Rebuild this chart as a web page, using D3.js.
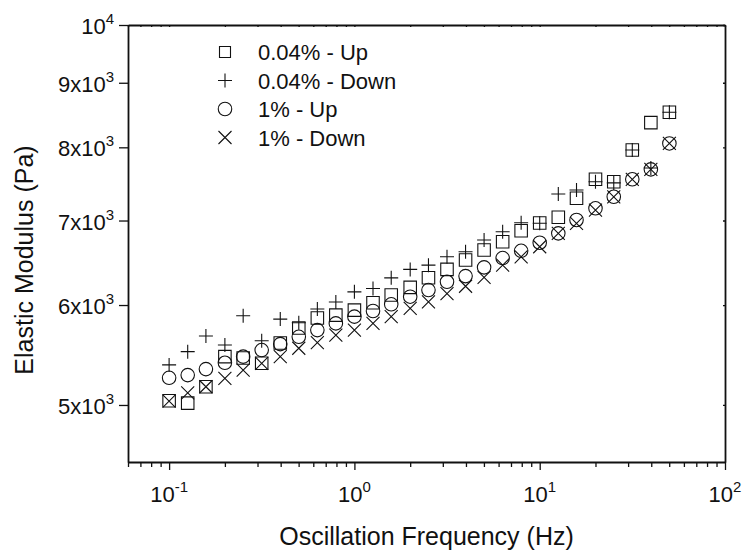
<!DOCTYPE html>
<html>
<head>
<meta charset="utf-8">
<script src="https://cdn.jsdelivr.net/npm/d3@7"></script>
<style>
  html, body { margin: 0; padding: 0; background: #fff; }
  svg { display: block; font-family: "Liberation Sans", Arial, Helvetica, sans-serif; }
</style>
</head>
<body>
<svg id="chart" width="745" height="552"></svg>
<script>
// ---- data ----
const frequency = [0.1, 0.126, 0.158, 0.2, 0.251, 0.316, 0.398, 0.501, 0.631, 0.794,
                   1, 1.26, 1.58, 2, 2.51, 3.16, 3.98, 5.01, 6.31, 7.94,
                   10, 12.6, 15.8, 20, 25.1, 31.6, 39.8, 50.1];
const up004 = [5038, 5017, 5169, 5461, 5447, 5395, 5598, 5754, 5859, 5891,
               5944, 6025, 6110, 6196, 6306, 6403, 6514, 6633, 6735, 6871,
               6968, 7041, 7290, 7547, 7514, 7962, 8368, 8528];
const down004 = [5379, 5511, 5671, 5578, 5884, 5622, 5848, 5809, 5956, 6034,
                 6146, 6184, 6305, 6403, 6453, 6552, 6613, 6755, 6858, 6972,
                 6965, 7347, 7401, 7514, 7497, 7962, 7704, 8528];
const up1 = [5254, 5280, 5338, 5400, 5461, 5527, 5587, 5662, 5732, 5802,
             5874, 5935, 6008, 6092, 6166, 6260, 6325, 6427, 6537, 6624,
             6722, 6838, 7007, 7158, 7310, 7547, 7685, 8057];
const down1 = [5035, 5112, 5169, 5248, 5328, 5395, 5461, 5545, 5603, 5679,
               5732, 5802, 5874, 5963, 6034, 6127, 6209, 6310, 6453, 6552,
               6673, 6838, 6965, 7135, 7310, 7547, 7685, 8057];
const seriesNames = ["0.04% - Up", "0.04% - Down", "1% - Up", "1% - Down"];
const seriesSymbols = ["square", "plus", "circle", "times"];
const xTickValues = [0.1, 1, 10, 100];
const xTickLabels = [["10", "-1"], ["10", "0"], ["10", "1"], ["10", "2"]];
const yTickValues = [5000, 6000, 7000, 8000, 9000, 10000];
const yTickLabels = [["5x10", "3"], ["6x10", "3"], ["7x10", "3"], ["8x10", "3"], ["9x10", "3"], ["10", "4"]];
const xTitle = "Oscillation Frequency (Hz)";
const yTitle = "Elastic Modulus (Pa)";

// ---- layout ----
const L = 128, R = 725, T = 25, B = 462;
const svg = d3.select("#chart");
const x = d3.scaleLog().domain([0.06, 100]).range([L, R]);
const y = d3.scaleLog().domain([4506, 10000]).range([B, T]);

const xMinor = [];
[0.01, 0.1, 1, 10].forEach(d => { for (let m = 2; m <= 9; m++) { const v = d * m; if (v >= 0.06 && v < 100) xMinor.push(+v.toPrecision(3)); } });

const ink = "#111";

// bottom axis major/minor
const gB = svg.append("g").attr("transform", `translate(0,${B})`);
gB.call(d3.axisBottom(x).tickValues(xTickValues).tickSize(8).tickSizeOuter(0).tickFormat(""));
const gBm = svg.append("g").attr("transform", `translate(0,${B})`);
gBm.call(d3.axisBottom(x).tickValues(xMinor).tickSize(5).tickSizeOuter(0).tickFormat(""));
gBm.select(".domain").remove();
// top axis (tiny inward ticks)
const gT = svg.append("g").attr("transform", `translate(0,${T})`);
gT.call(d3.axisBottom(x).tickValues(xTickValues.concat(xMinor)).tickSize(2).tickSizeOuter(0).tickFormat(""));
// left axis
const gL = svg.append("g").attr("transform", `translate(${L},0)`);
gL.call(d3.axisLeft(y).tickValues(yTickValues).tickSize(9).tickSizeOuter(0).tickFormat(""));
// right axis (tiny inward ticks)
const gR = svg.append("g").attr("transform", `translate(${R},0)`);
gR.call(d3.axisLeft(y).tickValues(yTickValues).tickSize(2).tickSizeOuter(0).tickFormat(""));

svg.selectAll(".domain").attr("stroke", ink).attr("stroke-width", 1.8);
svg.selectAll(".tick line").attr("stroke", ink).attr("stroke-width", 1.3);

// tick labels
const xl = svg.append("g").selectAll("text").data(xTickValues).join("text")
  .attr("x", d => x(d)).attr("y", 502).attr("text-anchor", "middle")
  .attr("font-size", 22).attr("fill", ink);
xl.each(function(d, i) {
  const t = d3.select(this);
  t.append("tspan").text(xTickLabels[i][0]);
  t.append("tspan").attr("dy", -10).attr("font-size", 15).text(xTickLabels[i][1]);
});
const yl = svg.append("g").selectAll("text").data(yTickValues).join("text")
  .attr("x", 114).attr("y", d => y(d) + 9).attr("text-anchor", "end")
  .attr("font-size", 22).attr("fill", ink);
yl.each(function(d, i) {
  const t = d3.select(this);
  t.append("tspan").text(yTickLabels[i][0]);
  t.append("tspan").attr("dy", -10).attr("font-size", 15).text(yTickLabels[i][1]);
});

// titles
svg.append("text").attr("x", (L + R) / 2).attr("y", 545).attr("text-anchor", "middle")
  .attr("font-size", 25).attr("fill", ink).text(xTitle);
svg.append("text").attr("transform", "translate(33,260) rotate(-90)").attr("text-anchor", "middle")
  .attr("font-size", 25).attr("fill", ink).text(yTitle);

// symbols
function symbolPath(type, s) {
  const h = s / 2;
  if (type === "square") return `M${-h},${-h}H${h}V${h}H${-h}Z`;
  if (type === "plus") return `M${-h},0H${h}M0,${-h}V${h}`;
  if (type === "times") return `M${-h},${-h}L${h},${h}M${-h},${h}L${h},${-h}`;
  if (type === "circle") return `M${h},0A${h},${h} 0 1,1 ${-h},0A${h},${h} 0 1,1 ${h},0Z`;
}
const symbolSize = { square: 12.5, plus: 14, circle: 13.5, times: 13 };
const series = [up004, down004, up1, down1];

series.forEach((vals, si) => {
  const type = seriesSymbols[si];
  svg.append("g").selectAll("path").data(vals).join("path")
    .attr("transform", (d, i) => `translate(${x(frequency[i])},${y(d)})`)
    .attr("d", symbolPath(type, symbolSize[type]))
    .attr("fill", "none").attr("stroke", ink).attr("stroke-width", 1.1);
});

// legend
const legendY = [52, 80.5, 109, 137.5];
const lg = svg.append("g");
seriesNames.forEach((name, i) => {
  const type = seriesSymbols[i];
  const sz = type === "square" ? 11 : symbolSize[type];
  lg.append("path").attr("transform", `translate(225,${legendY[i]})`)
    .attr("d", symbolPath(type, sz)).attr("fill", "none").attr("stroke", ink).attr("stroke-width", 1.1);
  lg.append("text").attr("x", 258).attr("y", legendY[i] + 8).attr("font-size", 22).attr("fill", ink).text(name);
});
</script>
</body>
</html>
